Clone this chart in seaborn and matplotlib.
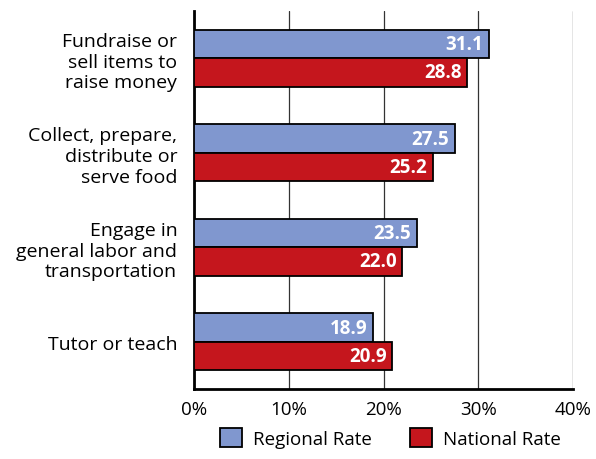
import pandas as pd
import matplotlib
matplotlib.use("Agg")
import matplotlib.pyplot as plt
import seaborn as sns

categories = ["Fundraise or\nsell items to\nraise money",
              "Collect, prepare,\ndistribute or\nserve food",
              "Engage in\ngeneral labor and\ntransportation",
              "Tutor or teach"]
regional = [31.1, 27.5, 23.5, 18.9]
national = [28.8, 25.2, 22.0, 20.9]
series = ["Regional Rate", "National Rate"]
colors = ["#8097CF", "#C5161D"]

df = pd.DataFrame({
    "Activity": categories * 2,
    "Rate": regional + national,
    "Series": [series[0]] * 4 + [series[1]] * 4,
})

sns.set_style("white")
plt.rcParams["font.family"] = ["Open Sans", "DejaVu Sans"]
plt.rcParams["text.color"] = "black"
plt.rcParams["xtick.color"] = "black"
plt.rcParams["ytick.color"] = "black"

fig = plt.figure(figsize=(5.96, 4.6), dpi=100)
ax = fig.add_axes([0.3255, 0.152, 0.636, 0.822])

sns.barplot(data=df, y="Activity", x="Rate", hue="Series", palette=colors,
            width=0.6, orient="h", edgecolor="black", linewidth=1.3,
            saturation=1, ax=ax, zorder=3)

for cont in ax.containers:
    txts = ax.bar_label(cont, labels=[f"{v:.1f}" for v in cont.datavalues],
                        padding=-4, label_type="edge", color="white",
                        fontsize=13.5, fontweight="bold")
    for t in txts:
        t.set_horizontalalignment("right")

ax.set_xlim(0, 40)
ax.set_ylim(3.5, -0.5)
ax.set_xticks([0, 10, 20, 30, 40])
ax.set_xticklabels(["0%", "10%", "20%", "30%", "40%"], fontsize=13.5)
ax.tick_params(axis="y", labelsize=14, length=0, pad=12, labelcolor="black")
ax.tick_params(axis="x", length=0, pad=8, labelcolor="black")
ax.set_xlabel("")
ax.set_ylabel("")
for lbl in ax.get_yticklabels():
    lbl.set_multialignment("right")
    lbl.set_linespacing(1.2)

ax.grid(axis="x", color="#333333", linewidth=0.9, zorder=0)
ax.grid(axis="y", visible=False)
for s in ["top", "right"]:
    ax.spines[s].set_visible(False)
ax.spines["left"].set_color("black")
ax.spines["left"].set_linewidth(2)
ax.spines["bottom"].set_color("black")
ax.spines["bottom"].set_linewidth(2)

ax.legend(loc="lower center", bbox_to_anchor=(0.655, 0.004),
          bbox_transform=fig.transFigure, ncol=2,
          frameon=False, fontsize=13.5, handlelength=1.2, handleheight=1.2,
          columnspacing=2.0, handletextpad=0.6, borderpad=0.0)

fig.savefig("out.png", dpi=100)
